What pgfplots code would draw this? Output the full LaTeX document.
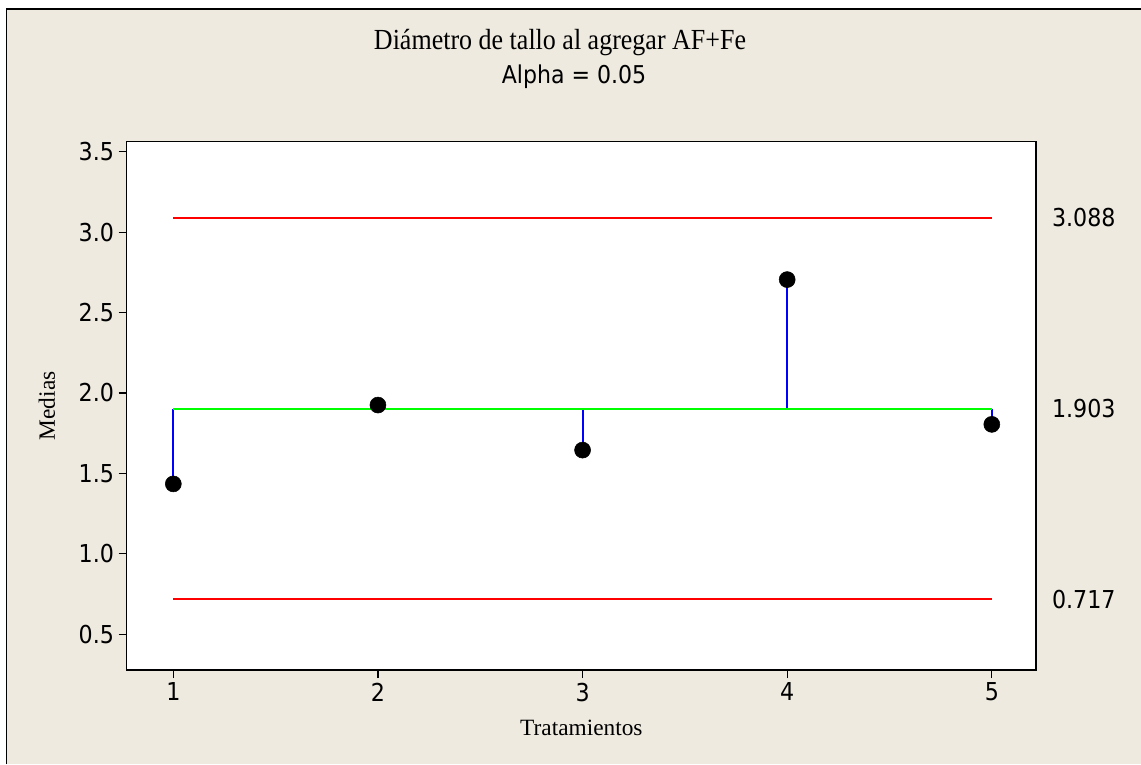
\documentclass[border=0pt]{standalone}
\usepackage{pgfplots}
\pgfplotsset{compat=1.18}
\usepackage{fontspec}
\setmainfont{Liberation Serif}
\newfontfamily\tahoma{DejaVu Sans Condensed}
\definecolor{bgbeige}{RGB}{238,234,224}
\definecolor{limred}{RGB}{255,0,0}
\definecolor{cgreen}{RGB}{0,255,0}
\definecolor{stemblue}{RGB}{0,0,255}
\begin{document}
\begin{tikzpicture}
\fill[white] (0,0) rectangle (855.75pt,573pt);
\fill[bgbeige] (5pt,0) rectangle (855.75pt,566.25pt);
\draw[line width=0.9pt] (5pt,0) -- (5pt,566.25pt) -- (855.75pt,566.25pt);
\node[anchor=base,font=\fontsize{19.5}{22}\selectfont,yscale=1.12] at (420pt,535.5pt) {Diámetro de tallo al agregar AF+Fe};
\node[anchor=base,font=\tahoma\fontsize{18.4}{21}\selectfont] at (430.5pt,510.5pt) {Alpha = 0.05};
\begin{axis}[
  at={(95pt,70.5pt)}, anchor=south west,
  width=682pt, height=396.2pt, scale only axis,
  xmin=0.772, xmax=5.216, ymin=0.278, ymax=3.562,
  xtick={1,2,3,4,5}, ytick={0.5,1.0,1.5,2.0,2.5,3.0,3.5},
  tick pos=left, tick align=outside, major tick length=6pt,
  axis line style={line width=1pt},
  every tick/.style={black,line width=0.9pt},
  /pgf/number format/assume math mode=true,
  yticklabel style={/pgf/number format/.cd,fixed,fixed zerofill,precision=1},
  tick label style={font=\tahoma\fontsize{18.5}{21}\selectfont},
  xlabel={Tratamientos}, ylabel={Medias},
  label style={font=\fontsize{17.5}{20}\selectfont},
  xlabel style={at={(0.5,0)}, anchor=base, yshift=-48.75pt},
  ylabel style={at={(-0.0877,0.5)}, anchor=center},
  axis background/.style={fill=white},
  clip=false,
]
\addplot[draw=stemblue, line width=1.4pt] coordinates {(1,1.903) (1,1.435)};
\addplot[draw=stemblue, line width=1.4pt] coordinates {(2,1.903) (2,1.925)};
\addplot[draw=stemblue, line width=1.4pt] coordinates {(3,1.903) (3,1.645)};
\addplot[draw=stemblue, line width=1.4pt] coordinates {(4,1.903) (4,2.705)};
\addplot[draw=stemblue, line width=1.4pt] coordinates {(5,1.903) (5,1.805)};
\addplot[draw=cgreen, line width=1.4pt] coordinates {(1,1.903) (5,1.903)};
\addplot[draw=limred, line width=1.4pt] coordinates {(1,3.088) (5,3.088)};
\addplot[draw=limred, line width=1.4pt] coordinates {(1,0.717) (5,0.717)};
\addplot[only marks, mark=*, mark size=6pt, black] coordinates {(1,1.435) (2,1.925) (3,1.645) (4,2.705) (5,1.805)};
\node[anchor=west,font=\tahoma\fontsize{18.5}{21}\selectfont,xshift=8.5pt] at (axis cs:5.216,3.088) {3.088};
\node[anchor=west,font=\tahoma\fontsize{18.5}{21}\selectfont,xshift=8.5pt] at (axis cs:5.216,1.903) {1.903};
\node[anchor=west,font=\tahoma\fontsize{18.5}{21}\selectfont,xshift=8.5pt] at (axis cs:5.216,0.717) {0.717};
\end{axis}
\pgfresetboundingbox
\useasboundingbox (0,0) rectangle (855.75pt,573pt);
\end{tikzpicture}
\end{document}
